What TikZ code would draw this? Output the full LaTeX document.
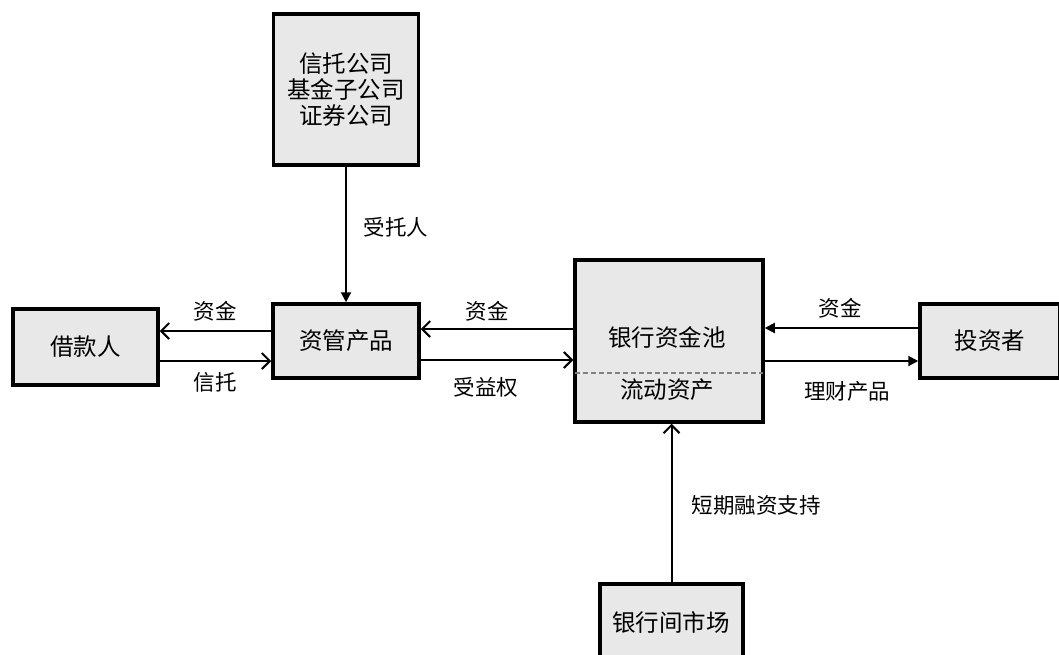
\documentclass[tikz,border=0pt]{standalone}
\usepackage{fontspec}
\newfontfamily\cjk{Noto Sans CJK SC}
\usetikzlibrary{arrows.meta}
\definecolor{boxgray}{HTML}{E8E8E8}
\tikzset{
  box/.style={draw=black, line width=3.5pt, fill=boxgray, inner sep=0pt, align=center,
    font=\cjk\fontsize{23.5}{26}\selectfont},
  lbl/.style={font=\cjk\fontsize{21.5}{24}\selectfont, inner sep=0pt},
  boxtxt/.style={font=\cjk\fontsize{23.5}{26}\selectfont, inner sep=0pt},
  openarr/.style={line width=2pt, -{Straight Barb[length=8pt,width=16pt,line width=2pt]}},
  fillarr/.style={line width=2pt, -{Triangle[length=10pt,width=10pt]}},
}
\begin{document}
\begin{tikzpicture}[x=1pt,y=-1pt]
\useasboundingbox (0,0) rectangle (1059,654);
\fill[white] (0,0) rectangle (1059,654);
% boxes
\node[box, minimum width=145pt, minimum height=151pt] (trust) at (346,89.5) {信托公司\\基金子公司\\证券公司};
\node[box, minimum width=145pt, minimum height=76pt] (borrow) at (85.5,347) {借款人};
\node[box, minimum width=146pt, minimum height=74pt] (amp) at (346,341) {资管产品};
\node[box, minimum width=188pt, minimum height=162pt] (bank) at (669,341) {};
\node[box, minimum width=140pt, minimum height=74pt] (inv) at (990,341) {投资者};
\node[box, minimum width=143pt, minimum height=80pt] (ibm) at (671.5,624) {};
% texts inside bank and interbank
\node[boxtxt] (banktxt) at (667,337) {银行资金池};
\node[boxtxt] (liqtxt) at (667,390) {流动资产};
\node[boxtxt] (ibmtxt) at (671,622) {银行间市场};
\coordinate (dl) at (bank.west |- 0,373);
\coordinate (dr) at (bank.east |- 0,373);
\draw[gray, line width=1.2pt, dash pattern=on 5pt off 3pt] ([xshift=2pt]dl) -- ([xshift=-2pt]dr);
% connectors
\draw[fillarr] (trust.south) -- (amp.north);
\draw[openarr] (amp.west |- 0,331) -- (borrow.east |- 0,331);
\draw[openarr] (borrow.east |- 0,361) -- (amp.west |- 0,361);
\draw[openarr] (bank.west |- 0,329) -- (amp.east |- 0,329);
\draw[openarr] (amp.east |- 0,360) -- (bank.west |- 0,360);
\draw[fillarr] (inv.west |- 0,328) -- (bank.east |- 0,328);
\draw[fillarr] (bank.east |- 0,361) -- (inv.west |- 0,361);
\draw[openarr] (ibm.north) -- (bank.south -| ibm.north);
% labels
\node[lbl] (l1) at (215,311) {资金};
\node[lbl] (l2) at (215,382) {信托};
\node[lbl] (l3) at (396,227) {受托人};
\node[lbl] (l4) at (487,311) {资金};
\node[lbl] (l5) at (486,387) {受益权};
\node[lbl] (l6) at (840,308) {资金};
\node[lbl] (l7) at (847,391) {理财产品};
\node[lbl] (l8) at (756,505) {短期融资支持};
\end{tikzpicture}
\end{document}
